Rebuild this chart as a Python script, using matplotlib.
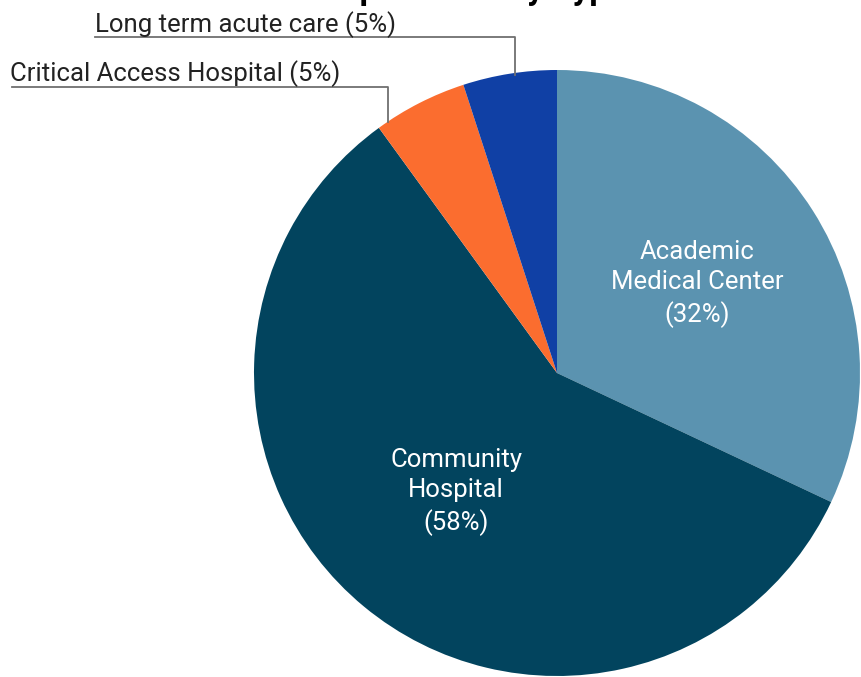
import matplotlib.pyplot as plt

# hospital types and their share of respondents
categories = ['Academic\nMedical Center', 'Community\nHospital', 'Critical Access Hospital', 'Long term acute care']
shares = [32, 58, 5, 5]
colors = ['#5b93b0', '#02445e', '#fb6d2f', '#1040a5']

plt.rcParams['font.family'] = ['Roboto', 'DejaVu Sans']

W, H = 861, 677
fig = plt.figure(figsize=(W / 100, H / 100), dpi=100)
ax = fig.add_axes([0, 0, 1, 1])

cx, cy, r = 557, H - 373, 303
wedges, _ = ax.pie(shares, colors=colors, startangle=90, counterclock=False,
                   center=(cx, cy), radius=r, frame=True,
                   wedgeprops={'linewidth': 0})
ax.set_xlim(0, W)
ax.set_ylim(0, H)
ax.set_aspect('equal')
ax.axis('off')

# labels inside the two big slices
ax.text(697, H - 284, f'{categories[0]}\n({shares[0]}%)', color='white', fontsize=18.5,
        ha='center', va='center', linespacing=1.33)
ax.text(456, H - 492, f'{categories[1]}\n({shares[1]}%)', color='white', fontsize=18.5,
        ha='center', va='center', linespacing=1.33)

# callouts for the small slices
line_kw = dict(color='#707070', linewidth=1.3)
ax.plot([95, 515, 515], [H - 37, H - 37, H - 75], **line_kw)
ax.text(95, H - 32, f'{categories[3]} ({shares[3]}%)', color='#222222', fontsize=18.5,
        ha='left', va='baseline')
ax.plot([12, 388, 388], [H - 87, H - 87, H - 122], **line_kw)
ax.text(10, H - 81, f'{categories[2]} ({shares[2]}%)', color='#222222', fontsize=18.5,
        ha='left', va='baseline')

# title sits mostly above the visible area
ax.text(465, H + 1, 'Respondents by Type', fontsize=24, fontweight='bold',
        ha='center', va='baseline', color='black')

fig.savefig('out.png', dpi=100)
